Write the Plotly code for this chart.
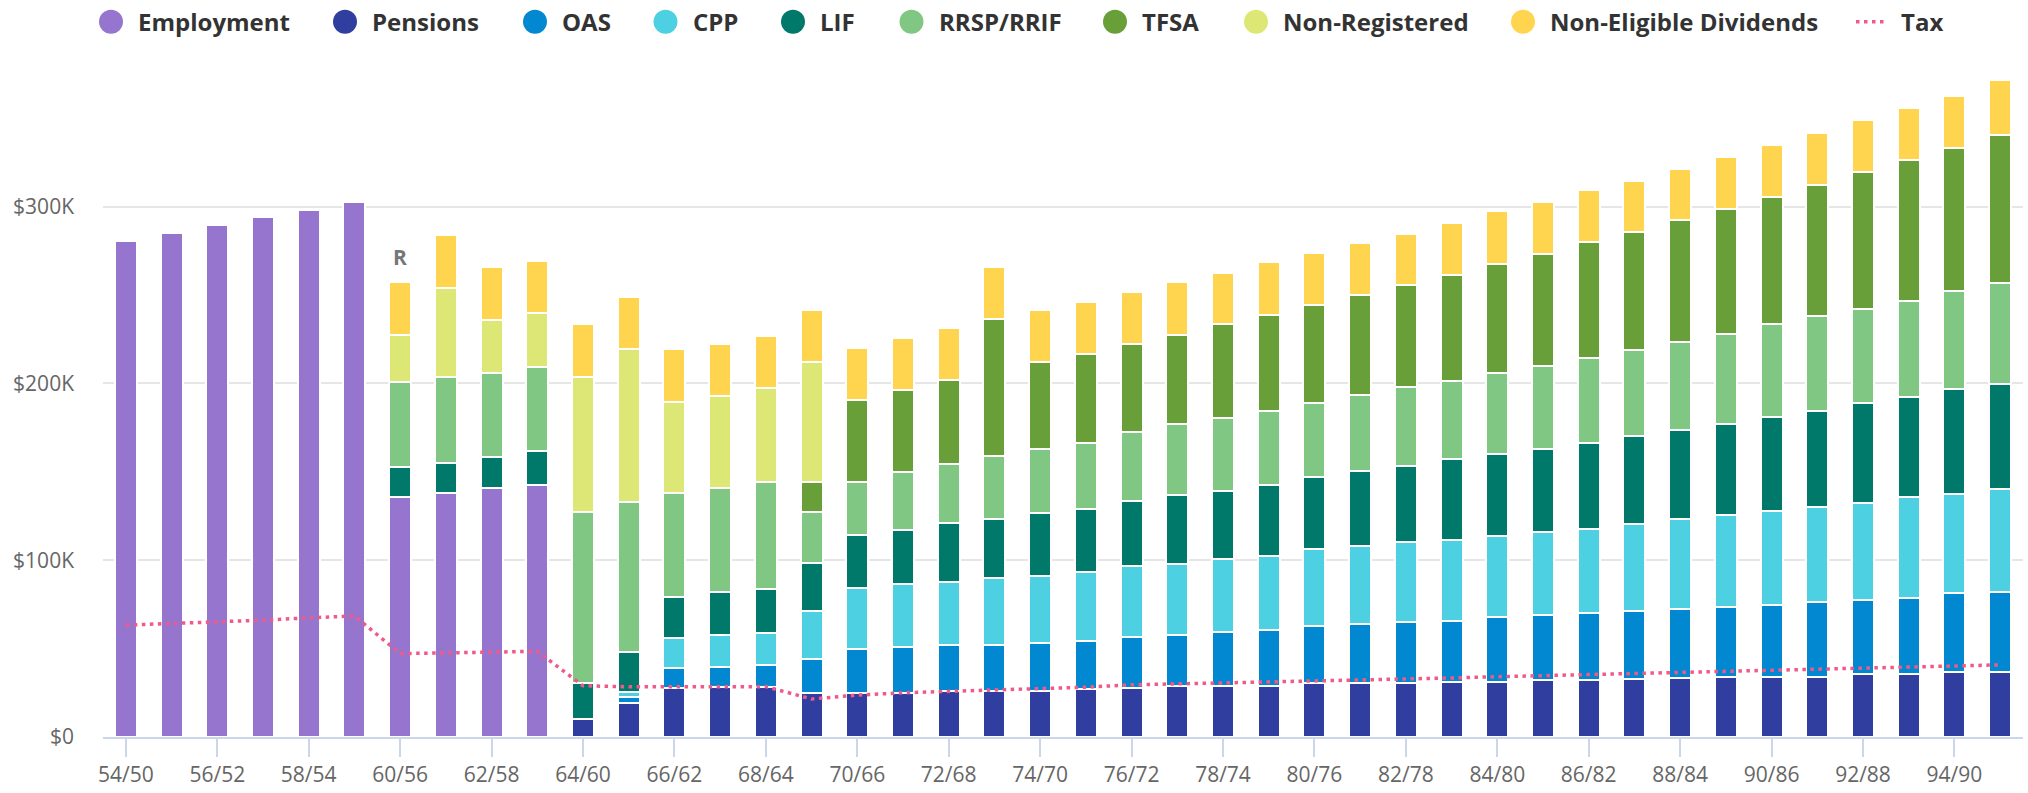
import plotly.graph_objects as go

# ---------------- data (values in $K) ----------------
categories = ["54/50", "55/51", "56/52", "57/53", "58/54", "59/55", "60/56", "61/57",
              "62/58", "63/59", "64/60", "65/61", "66/62", "67/63", "68/64", "69/65",
              "70/66", "71/67", "72/68", "73/69", "74/70", "75/71", "76/72", "77/73",
              "78/74", "79/75", "80/76", "81/77", "82/78", "83/79", "84/80", "85/81",
              "86/82", "87/83", "88/84", "89/85", "90/86", "91/87", "92/88", "93/89",
              "94/90", "95/91"]

N = None
employment = [280.5, 285.0, 289.4, 293.9, 298.3, 302.6, 135.9, 138.3, 140.7, 142.8,
              N, N, N, N, N, N, N, N, N, N, N, N, N, N, N, N, N, N, N, N, N, N,
              N, N, N, N, N, N, N, N, N, N]
pensions = [N, N, N, N, N, N, N, N, N, N,
            10.2, 19.1, 27.8, 28.3, 28.3, 25.0, 25.0, 25.0, 26.3, 26.3, 26.3, 27.3,
            27.6, 29.0, 29.0, 29.0, 30.3, 30.3, 30.3, 31.3, 31.3, 32.4, 32.4, 32.9,
            33.4, 34.2, 34.2, 34.2, 35.5, 35.5, 36.6, 36.6]
oas = [N, N, N, N, N, N, N, N, N, N,
       N, 3.3, 11.5, 11.1, 12.5, 19.2, 24.6, 26.0, 25.6, 25.6, 27.0, 27.0,
       29.0, 28.9, 30.2, 31.5, 32.3, 33.4, 34.7, 34.5, 36.6, 36.6, 37.9, 38.2,
       39.0, 39.2, 40.3, 42.4, 42.1, 43.2, 44.7, 45.5]
cpp = [N, N, N, N, N, N, N, N, N, N,
       N, 3.3, 16.8, 18.3, 17.9, 27.0, 34.6, 35.5, 35.6, 37.9, 38.0, 39.1,
       40.0, 40.0, 41.3, 42.1, 43.5, 44.2, 45.5, 45.5, 45.8, 46.8, 47.6, 49.2,
       50.8, 52.4, 53.2, 53.7, 54.8, 56.8, 56.4, 58.2]
lif = [N, N, N, N, N, N, 16.9, 16.7, 17.8, 18.9,
       20.2, 22.3, 23.3, 24.4, 25.3, 27.3, 30.0, 30.8, 33.3, 33.3, 35.2, 35.5,
       36.8, 39.0, 38.5, 40.1, 41.0, 42.7, 42.9, 45.8, 46.6, 47.4, 48.7, 50.0,
       50.2, 51.1, 53.4, 53.9, 56.3, 56.6, 58.9, 59.5]
rrsp_rrif = [N, N, N, N, N, N, 47.9, 48.9, 47.6, 47.9,
             96.8, 84.8, 58.9, 58.9, 60.2, 28.8, 30.0, 32.7, 33.4, 35.6, 36.6, 37.5,
             39.0, 40.0, 41.3, 41.5, 41.9, 42.9, 44.5, 44.2, 45.5, 46.8, 47.9, 48.7,
             50.3, 51.0, 52.4, 53.7, 53.4, 54.5, 55.5, 56.8]
tfsa = [N, N, N, N, N, N, N, N, N, N,
        N, N, N, N, N, 16.9, 46.6, 46.2, 47.7, 77.6, 48.8, 50.0,
        50.0, 50.8, 53.2, 54.8, 55.5, 56.5, 57.9, 60.1, 61.9, 63.2, 65.5, 66.6,
        68.5, 70.8, 71.8, 74.3, 77.7, 80.0, 81.1, 84.2]
non_registered = [N, N, N, N, N, N, 26.7, 50.0, 30.0, 30.2,
                  76.7, 86.8, 51.1, 51.9, 53.3, 67.7, N, N, N, N, N, N,
                  N, N, N, N, N, N, N, N, N, N, N, N, N, N, N, N, N, N, N, N]
non_eligible_dividends = [N, N, N, N, N, N, 29.8, 30.0, 29.8, 29.6,
                          29.8, 29.5, 30.0, 29.6, 29.4, 29.4, 29.4, 29.6, 29.4, 29.7, 29.4, 29.9,
                          29.5, 29.7, 29.2, 29.5, 29.2, 29.5, 29.0, 29.4, 29.7, 29.5, 29.3, 29.2,
                          29.4, 29.5, 29.5, 29.4, 29.5, 29.5, 29.5, 30.8]
tax = [63.3, 64.1, 65.0, 66.1, 67.4, 68.5, 47.2, 47.8, 48.0, 48.5,
       29.0, 28.4, 28.5, 28.5, 28.5, 21.5, 23.7, 25.0, 26.0, 26.6, 27.4, 28.2,
       29.5, 30.0, 30.5, 31.1, 31.8, 32.4, 32.9, 33.4, 34.1, 34.7, 35.5, 36.1,
       36.6, 37.1, 37.6, 38.2, 39.0, 39.5, 40.3, 40.8]

series_names = ["Employment", "Pensions", "OAS", "CPP", "LIF", "RRSP/RRIF", "TFSA",
                "Non-Registered", "Non-Eligible Dividends"]
series_values = [employment, pensions, oas, cpp, lif, rrsp_rrif, tfsa,
                 non_registered, non_eligible_dividends]
y_tick_values = [0, 100, 200, 300]
y_tick_labels = ["$0", "$100K", "$200K", "$300K"]
retirement_category = "60/56"
retirement_label = "R"

# ---------------- styles ----------------
colors = ["#9575cd", "#303f9f", "#0288d1", "#4dd0e1", "#00796b", "#81c784",
          "#689f38", "#dce775", "#ffd54f"]
tax_color = "#ef5a8a"
FONT = "Open Sans"

W, H = 2028, 793
ML, MR, MT, MB = 103, 5, 60, 44
PW, PH = W - ML - MR, H - MT - MB

fig = go.Figure()
for name, vals, col in zip(series_names, series_values, colors):
    fig.add_trace(go.Bar(x=categories, y=vals, name=name,
                         marker=dict(color=col, line=dict(color="white", width=2)),
                         showlegend=False))

fig.add_trace(go.Scatter(x=categories, y=tax, name="Tax", mode="lines",
                         line=dict(color=tax_color, width=3.5, dash="3.5px,4.5px"),
                         showlegend=False))

# retirement marker
ri = categories.index(retirement_category)
r_top = sum(v[ri] for v in series_values if v[ri] is not None)
annotations = [dict(x=retirement_category, y=r_top, xref="x", yref="y",
                    text="<b>%s</b>" % retirement_label, showarrow=False,
                    yanchor="bottom", yshift=9,
                    font=dict(family=FONT, size=21, color="#777777"))]

# custom legend (circle symbols)
legend_px = [111, 345, 535, 665.5, 793, 911.5, 1115, 1256, 1523]
legend_y_px = 21
def px_to_paper_x(px):
    return (px - ML) / PW
ly = (MT + PH - legend_y_px) / PH
shapes = []
for cx, name, col in zip(legend_px, series_names, colors):
    shapes.append(dict(type="circle", xref="paper", yref="paper",
                       xsizemode="pixel", ysizemode="pixel",
                       xanchor=px_to_paper_x(cx), yanchor=ly,
                       x0=-12, x1=12, y0=-12, y1=12,
                       fillcolor=col, line=dict(width=0)))
    annotations.append(dict(x=px_to_paper_x(cx + 25), y=ly, xref="paper", yref="paper",
                            text="<b>%s</b>" % name, showarrow=False,
                            xanchor="left", yanchor="middle",
                            font=dict(family=FONT, size=24, color="#333333")))
shapes.append(dict(type="line", xref="paper", yref="paper",
                   x0=px_to_paper_x(1856), x1=px_to_paper_x(1885), y0=ly, y1=ly,
                   line=dict(color=tax_color, width=3.5, dash="3.5px,4.5px")))
annotations.append(dict(x=px_to_paper_x(1899), y=ly, xref="paper", yref="paper",
                        text="<b>Tax</b>", showarrow=False,
                        xanchor="left", yanchor="middle",
                        font=dict(family=FONT, size=24, color="#333333")))

fig.update_layout(
    width=W, height=H,
    margin=dict(l=ML, r=MR, t=MT, b=MB, pad=0),
    barmode="stack", bargap=0.52,
    plot_bgcolor="white", paper_bgcolor="white",
    font=dict(family=FONT, size=21, color="#666666"),
    showlegend=False,
    annotations=annotations, shapes=shapes,
    xaxis=dict(type="category", range=[-0.5, len(categories) - 0.5],
               tickmode="array", tickvals=categories[::2], ticktext=categories[::2],
               ticks="outside", ticklen=18, tickwidth=1.5, tickcolor="#ccd6eb",
               showline=True, linecolor="#ccd6eb", linewidth=2, showgrid=False,
               tickfont=dict(family=FONT, size=21, color="#666666")),
    yaxis=dict(range=[0, PH / 179.9 * 100], tickmode="array",
               tickvals=y_tick_values, ticktext=y_tick_labels,
               showgrid=True, gridcolor="#e6e6e6", gridwidth=1.5,
               zeroline=False, showline=False, ticks="",
               ticklabelstandoff=28,
               tickfont=dict(family=FONT, size=21, color="#666666")),
    hovermode="x",
)

fig.write_html("out.html", config={"displayModeBar": False},
               post_script="document.body.style.margin='0';")
